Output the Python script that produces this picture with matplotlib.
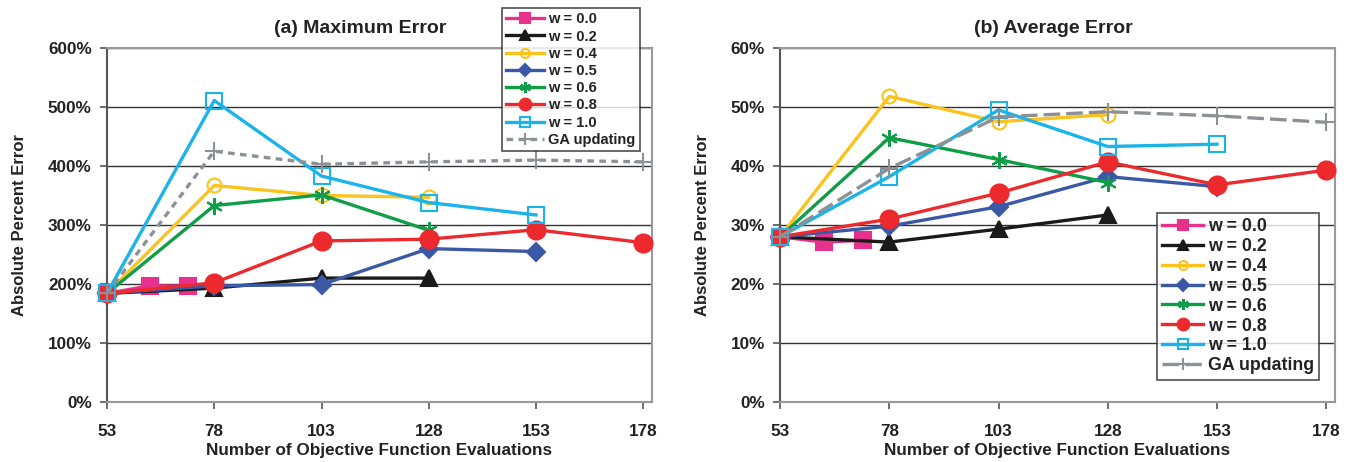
import matplotlib.pyplot as plt
from matplotlib.ticker import FuncFormatter

plt.rcParams['font.family'] = ['Liberation Sans', 'DejaVu Sans']
plt.rcParams['font.weight'] = 'bold'

# x positions (number of objective function evaluations)
x_w00 = [53, 63, 72]
x_w02 = [53, 78, 103, 128]
x_w04 = [53, 78, 103, 128]
x_w05 = [53, 78, 103, 128, 153]
x_w06 = [53, 78, 103, 128]
x_w08 = [53, 78, 103, 128, 153, 178]
x_w10 = [53, 78, 103, 128, 153]
x_ga = [53, 78, 103, 128, 153, 178]

# (a) maximum error, percent
max_w00 = [184, 197, 196]
max_w02 = [184, 193, 210, 210]
max_w04 = [184, 367, 350, 347]
max_w05 = [184, 197, 199, 260, 255]
max_w06 = [184, 333, 351, 291]
max_w08 = [184, 202, 273, 276, 292, 270]
max_w10 = [184, 511, 383, 338, 317]
max_ga = [184, 425, 403, 407, 410, 407]

# (b) average error, percent
avg_w00 = [28.0, 27.1, 27.4]
avg_w02 = [28.0, 27.1, 29.3, 31.7]
avg_w04 = [28.0, 51.8, 47.5, 48.7]
avg_w05 = [28.0, 29.8, 33.1, 38.2, 36.5]
avg_w06 = [28.0, 44.8, 41.1, 37.2]
avg_w08 = [28.0, 31.0, 35.4, 40.7, 36.8, 39.3]
avg_w10 = [28.0, 38.2, 49.5, 43.3, 43.7]
avg_ga = [28.0, 39.6, 48.3, 49.2, 48.5, 47.4]

labels = ['w = 0.0', 'w = 0.2', 'w = 0.4', 'w = 0.5', 'w = 0.6', 'w = 0.8', 'w = 1.0', 'GA updating']
xs = [x_w00, x_w02, x_w04, x_w05, x_w06, x_w08, x_w10, x_ga]
max_ys = [max_w00, max_w02, max_w04, max_w05, max_w06, max_w08, max_w10, max_ga]
avg_ys = [avg_w00, avg_w02, avg_w04, avg_w05, avg_w06, avg_w08, avg_w10, avg_ga]

colors = ['#e8318c', '#1a1a1a', '#fcc31c', '#3b58a6', '#0f9d48', '#ec2a2e', '#1ab3ea', '#8d9196']
markers = ['s', '^', 'o', 'D', (6, 2, 0), 'o', 's', '+']
msizes = [11, 12, 10, 9, 12, 13, 11, 13]
filled = [True, True, False, True, True, True, False, True]

fig = plt.figure(figsize=(13.54, 4.62), dpi=100)
ax1 = fig.add_axes([0.0790, 0.1299, 0.4025, 0.7662])
ax2 = fig.add_axes([0.5761, 0.1299, 0.4099, 0.7662])


def draw(ax, ys, ga_style, ymax, ystep, title, title_x, legend_pos, legend_size, hlen, lspace):
    for i in range(8):
        ls = ga_style if i == 7 else '-'
        ax.plot(xs[i], ys[i], color=colors[i], marker=markers[i], markersize=msizes[i],
                markerfacecolor=colors[i] if filled[i] else 'none',
                markeredgecolor=colors[i], markeredgewidth=1.5,
                linewidth=2.4, linestyle=ls, label=labels[i], clip_on=False, zorder=3)
    ax.set_xlim(53, 180)
    ax.set_ylim(0, ymax)
    ax.set_xticks([53, 78, 103, 128, 153, 178])
    ax.set_yticks([ystep * k for k in range(7)])
    ax.yaxis.set_major_formatter(FuncFormatter(lambda v, p: '{:.0f}%'.format(v)))
    ax.grid(True, axis='y', color='#333333', linewidth=1.0)
    ax.set_axisbelow(True)
    for s in ['top', 'right', 'bottom']:
        ax.spines[s].set_color('#999999')
        ax.spines[s].set_linewidth(1.5)
    ax.spines['left'].set_color('#555555')
    ax.spines['left'].set_linewidth(1.5)
    ax.tick_params(axis='both', direction='out', length=5, width=1.2, color='#555555',
                   labelsize=12.3, labelcolor='#222222')
    ax.tick_params(axis='x', pad=11)
    ax.tick_params(axis='y', pad=6)
    ax.set_title(title, fontsize=14, fontweight='bold', pad=11, color='#222222', x=title_x)
    ax.set_xlabel('Number of Objective Function Evaluations', fontsize=12.3, fontweight='bold',
                  labelpad=3, color='#222222')
    ax.set_ylabel('Absolute Percent Error', fontsize=12, fontweight='bold', labelpad=15,
                  color='#222222')
    leg = ax.legend(loc='upper left', bbox_to_anchor=legend_pos, bbox_transform=fig.transFigure,
                    fontsize=legend_size, frameon=True, fancybox=False, edgecolor='#222222',
                    borderpad=0.3, labelspacing=lspace, handlelength=hlen, handletextpad=0.25,
                    borderaxespad=0, markerscale=0.65)
    leg.get_frame().set_linewidth(1.2)
    leg.set_zorder(5)
    for t in leg.get_texts():
        t.set_color('#222222')


draw(ax1, max_ys, (0, (2.0, 1.6)), 600, 100, '(a) Maximum Error', 0.465,
     (0.3708, 0.9827), 10.5, 2.6, 0.22)
draw(ax2, avg_ys, (0, (5.0, 1.8)), 60, 10, '(b) Average Error', 0.492,
     (0.8545, 0.539), 12.8, 2.3, 0.16)

fig.savefig('out.png', dpi=100)
